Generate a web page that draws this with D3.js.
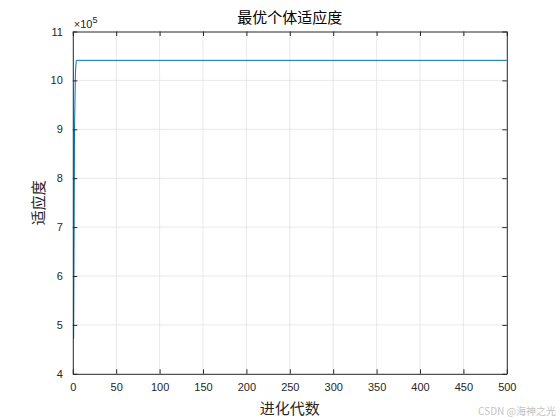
<!DOCTYPE html>
<html>
<head>
<meta charset="utf-8">
<script src="https://cdn.jsdelivr.net/npm/d3@7"></script>
<style>
  body { margin: 0; background: #fff; }
  svg { display: block; }
</style>
</head>
<body>
<div id="chart"></div>
<script>
// generation numbers and best fitness (x 1e5)
const generations = [1, 2, 3, 4, 500];
const bestFitness = [4.72, 9.0, 10.15, 10.41, 10.41];

const xTicks = [0, 50, 100, 150, 200, 250, 300, 350, 400, 450, 500];
const yTicks = [4, 5, 6, 7, 8, 9, 10, 11];

const titleText = '最优个体适应度';
const xLabelText = '进化代数';
const yLabelText = '适应度';

const width = 560, height = 420;
const margin = { left: 72.8, right: 560 - 506.8, top: 31.5, bottom: 420 - 373.8 };
const cjk = '"Noto Sans CJK SC", sans-serif';
const num = '"Liberation Sans", Arial, sans-serif';

const svg = d3.select('#chart')
  .append('svg')
  .attr('width', width)
  .attr('height', height);

const x = d3.scaleLinear().domain([0, 500]).range([margin.left, width - margin.right]);
const y = d3.scaleLinear().domain([4, 11]).range([height - margin.bottom, margin.top]);

// grid
const grid = svg.append('g').attr('stroke', '#e0e0e0').attr('stroke-width', 0.7);
grid.selectAll('.gx').data(xTicks.slice(1, -1)).join('line')
  .attr('x1', d => x(d)).attr('x2', d => x(d))
  .attr('y1', y(4)).attr('y2', y(11));
grid.selectAll('.gy').data(yTicks.slice(1, -1)).join('line')
  .attr('x1', x(0)).attr('x2', x(500))
  .attr('y1', d => y(d)).attr('y2', d => y(d));

// data line
const line = d3.line()
  .x((d, i) => x(generations[i]))
  .y(d => y(d));
svg.append('path')
  .datum(bestFitness)
  .attr('fill', 'none')
  .attr('stroke', '#0072BD')
  .attr('stroke-width', 1)
  .attr('d', line);

// axes (ticks inward, box on all four sides)
const tk = 4.5;
const axisColor = '#262626';
svg.append('g')
  .attr('transform', `translate(0,${y(4)})`)
  .call(d3.axisBottom(x).tickValues(xTicks).tickSizeInner(-tk).tickSizeOuter(0).tickPadding(9))
  .call(g => g.select('.domain').attr('stroke', axisColor))
  .call(g => g.selectAll('line').attr('stroke', axisColor))
  .call(g => g.selectAll('text').attr('fill', axisColor).style('font', `11px ${num}`));
svg.append('g')
  .attr('transform', `translate(0,${y(11)})`)
  .call(d3.axisTop(x).tickValues(xTicks).tickSizeInner(-tk).tickSizeOuter(0).tickFormat(''))
  .call(g => g.select('.domain').attr('stroke', axisColor))
  .call(g => g.selectAll('line').attr('stroke', axisColor));
svg.append('g')
  .attr('transform', `translate(${x(0)},0)`)
  .call(d3.axisLeft(y).tickValues(yTicks).tickFormat(d3.format('d')).tickSizeInner(-tk).tickSizeOuter(0).tickPadding(10))
  .call(g => g.select('.domain').attr('stroke', axisColor))
  .call(g => g.selectAll('line').attr('stroke', axisColor))
  .call(g => g.selectAll('text').attr('fill', axisColor).style('font', `11px ${num}`));
svg.append('g')
  .attr('transform', `translate(${x(500)},0)`)
  .call(d3.axisRight(y).tickValues(yTicks).tickSizeInner(-tk).tickSizeOuter(0).tickFormat(''))
  .call(g => g.select('.domain').attr('stroke', axisColor))
  .call(g => g.selectAll('line').attr('stroke', axisColor));

// exponent label
const expo = svg.append('text')
  .attr('x', x(0) + 1)
  .attr('y', y(11) - 4)
  .attr('fill', axisColor)
  .style('font', `11px ${num}`);
expo.append('tspan').text('×10');
expo.append('tspan').attr('dy', -5).style('font-size', '9px').text('5');

// title and axis labels
svg.append('text')
  .attr('x', (x(0) + x(500)) / 2)
  .attr('y', 23)
  .attr('text-anchor', 'middle')
  .attr('fill', '#000')
  .style('font', `15px ${cjk}`)
  .text(titleText);
svg.append('text')
  .attr('x', (x(0) + x(500)) / 2)
  .attr('y', 414)
  .attr('text-anchor', 'middle')
  .attr('fill', '#262626')
  .style('font', `15px ${cjk}`)
  .text(xLabelText);
svg.append('text')
  .attr('transform', `translate(44,${(y(4) + y(11)) / 2}) rotate(-90)`)
  .attr('text-anchor', 'middle')
  .attr('fill', '#262626')
  .style('font', `15px ${cjk}`)
  .text(yLabelText);

// watermark
svg.append('text')
  .attr('x', 556)
  .attr('y', 415)
  .attr('text-anchor', 'end')
  .attr('fill', '#c4c4c4')
  .style('font', `10px ${cjk}`)
  .text('CSDN @海神之光');
</script>
</body>
</html>
